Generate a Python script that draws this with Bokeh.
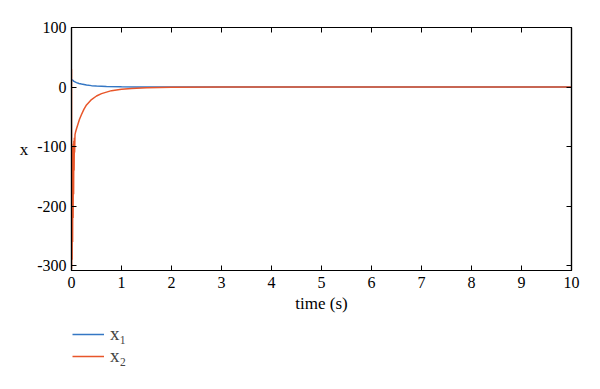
from bokeh.plotting import figure
from bokeh.layouts import column
from bokeh.models import (LinearAxis, Legend, LegendItem, Range1d, FixedTicker,
                          PrintfTickFormatter)
from bokeh.embed import file_html
from bokeh.resources import INLINE

# data
t1 = [0, 0.02, 0.05, 0.1, 0.15, 0.2, 0.3, 0.4, 0.5, 0.7, 1.0, 1.3, 1.7, 2.5, 4, 10]
x1 = [13, 11.5, 9.5, 7.5, 6, 5, 3.5, 2.4, 1.7, 0.9, 0.4, 0.2, 0.1, 0.03, 0, 0]

t2 = [0, 0.002, 0.007, 0.012, 0.017, 0.022, 0.027, 0.032, 0.037, 0.042, 0.047, 0.052,
      0.057, 0.062, 0.07, 0.08, 0.1, 0.13, 0.16, 0.2, 0.25, 0.3, 0.4, 0.5, 0.6,
      0.8, 1.0, 1.2, 1.5, 2.0, 3.0, 10]
x2 = [30, -305, -150, -290, -110, -260, -100, -220, -95, -180, -90, -140,
      -85, -110, -80, -76, -70, -62, -54, -46, -37, -30, -21, -15, -11,
      -6, -3.8, -2.3, -1.2, -0.4, 0, 0]

series_names = ["x\u2081", "x\u2082"]
colors = ["#3477C4", "#E8562A"]

xticks = [0, 1, 2, 3, 4, 5, 6, 7, 8, 9, 10]
yticks = [-300, -200, -100, 0, 100]

FONT = "Liberation Serif"

p = figure(output_backend="svg", toolbar_location=None,
           x_range=Range1d(0, 10), y_range=Range1d(-308, 100),
           frame_width=500, frame_height=243,
           min_border_left=71, min_border_top=27, min_border_right=21,
           min_border_bottom=50)
p.background_fill_color = "white"
p.border_fill_color = "white"
p.grid.visible = False
p.outline_line_color = "black"
p.outline_line_width = 1.2

p.line(t1, x1, line_color=colors[0], line_width=1.5)
p.line(t2, x2, line_color=colors[1], line_width=1.5)

def style_axis(ax, ticks, labels=True):
    ax.ticker = FixedTicker(ticks=ticks)
    ax.axis_line_color = "black"
    ax.axis_line_width = 1.2
    ax.major_tick_in = 5
    ax.major_tick_out = 0
    ax.major_tick_line_color = "black"
    ax.minor_tick_line_color = None
    ax.major_label_text_font = FONT
    ax.major_label_text_font_size = "16px"
    ax.major_label_text_color = "black"
    ax.axis_label_text_font = FONT
    ax.axis_label_text_font_size = "17px"
    ax.axis_label_text_font_style = "normal"
    ax.axis_label_text_color = "black"
    ax.formatter = PrintfTickFormatter(format="%d")
    if not labels:
        ax.major_label_overrides = {v: "" for v in ticks}

for ax in p.xaxis:
    style_axis(ax, xticks)
    ax.axis_label = "time (s)"
    ax.axis_label_standoff = 3
    ax.major_label_standoff = 6
for ax in p.yaxis:
    style_axis(ax, yticks)
    ax.major_label_standoff = 5
    ax.axis_label = "x"
    ax.axis_label_standoff = 6
    try:
        ax.axis_label_orientation = "horizontal"
    except Exception:
        pass

top = LinearAxis()
style_axis(top, xticks, labels=False)
p.add_layout(top, "above")
right = LinearAxis()
style_axis(right, yticks, labels=False)
p.add_layout(right, "right")

# legend panel below the chart (same series, drawn outside its visible range)
q = figure(output_backend="svg", toolbar_location=None,
           x_range=Range1d(20, 30), y_range=Range1d(-308, 100),
           frame_width=500, frame_height=56,
           min_border_left=71, min_border_right=21, min_border_top=0,
           min_border_bottom=0, x_axis_location=None, y_axis_location=None)
q.grid.visible = False
q.outline_line_color = None
q.background_fill_color = "white"
q.border_fill_color = "white"
r1 = q.line(t1, x1, line_color=colors[0], line_width=1.4)
r2 = q.line(t2, x2, line_color=colors[1], line_width=1.4)

legend = Legend(items=[LegendItem(label=series_names[0], renderers=[r1]),
                       LegendItem(label=series_names[1], renderers=[r2])],
                location=(1, 9), orientation="vertical")
legend.border_line_color = None
legend.background_fill_alpha = 0
legend.label_text_font = FONT
legend.label_text_font_size = "19px"
legend.glyph_width = 32
legend.glyph_height = 18
legend.label_height = 18
legend.spacing = 0
legend.padding = 0
legend.margin = 0
legend.label_standoff = 6
q.add_layout(legend, "center")

layout = column(p, q, spacing=0)
open("out.html", "w").write(file_html(layout, INLINE))
